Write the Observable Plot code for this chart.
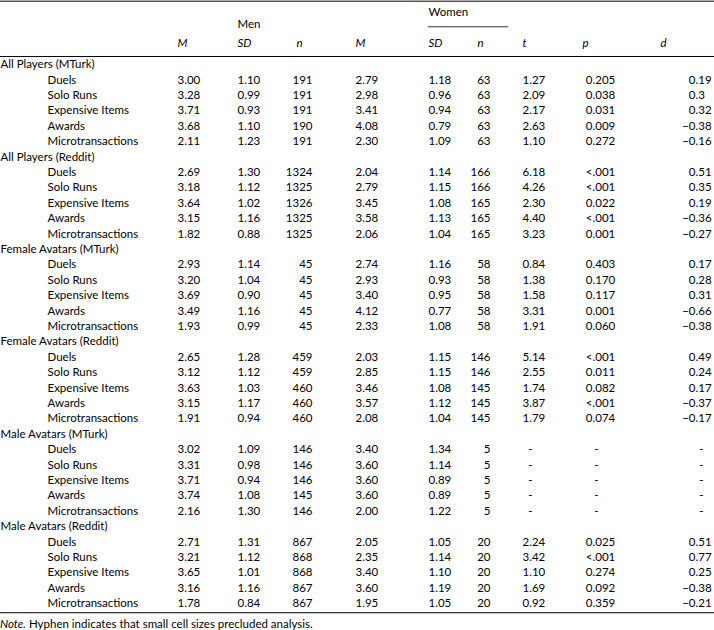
<!DOCTYPE html>
<html><head><meta charset="utf-8">
<script src="https://cdn.jsdelivr.net/npm/d3@7"></script>
<script src="https://cdn.jsdelivr.net/npm/@observablehq/plot@0.6"></script>
<style>
body{margin:0;background:#fff;font-family:Lato,sans-serif;color:#000;}
#note{font-size:11.5px;margin:0;line-height:14px;padding-top:1px;}
</style></head><body>
<div id="chart"></div>
<p id="note"><i>Note.</i> Hyphen indicates that small cell sizes precluded analysis.</p>
<script>
const groups = ["All Players (MTurk)","All Players (Reddit)","Female Avatars (MTurk)","Female Avatars (Reddit)","Male Avatars (MTurk)","Male Avatars (Reddit)"];
const items = ["Duels","Solo Runs","Expensive Items","Awards","Microtransactions"];
const menM = ["3.00","3.28","3.71","3.68","2.11", "2.69","3.18","3.64","3.15","1.82", "2.93","3.20","3.69","3.49","1.93", "2.65","3.12","3.63","3.15","1.91", "3.02","3.31","3.71","3.74","2.16", "2.71","3.21","3.65","3.16","1.78"];
const menSD = ["1.10","0.99","0.93","1.10","1.23", "1.30","1.12","1.02","1.16","0.88", "1.14","1.04","0.90","1.16","0.99", "1.28","1.12","1.03","1.17","0.94", "1.09","0.98","0.94","1.08","1.30", "1.31","1.12","1.01","1.16","0.84"];
const menN = ["191","191","191","190","191", "1324","1325","1326","1325","1325", "45","45","45","45","45", "459","459","460","460","460", "146","146","146","145","146", "867","868","868","867","867"];
const womenM = ["2.79","2.98","3.41","4.08","2.30", "2.04","2.79","3.45","3.58","2.06", "2.74","2.93","3.40","4.12","2.33", "2.03","2.85","3.46","3.57","2.08", "3.40","3.60","3.60","3.60","2.00", "2.05","2.35","3.40","3.60","1.95"];
const womenSD = ["1.18","0.96","0.94","0.79","1.09", "1.14","1.15","1.08","1.13","1.04", "1.16","0.93","0.95","0.77","1.08", "1.15","1.15","1.08","1.12","1.04", "1.34","1.14","0.89","0.89","1.22", "1.05","1.14","1.10","1.19","1.05"];
const womenN = ["63","63","63","63","63", "166","166","165","165","165", "58","58","58","58","58", "146","146","145","145","145", "5","5","5","5","5", "20","20","20","20","20"];
const tVals = ["1.27","2.09","2.17","2.63","1.10", "6.18","4.26","2.30","4.40","3.23", "0.84","1.38","1.58","3.31","1.91", "5.14","2.55","1.74","3.87","1.79", "-","-","-","-","-", "2.24","3.42","1.10","1.69","0.92"];
const pVals = ["0.205","0.038","0.031","0.009","0.272", "<.001","<.001","0.022","<.001","0.001", "0.403","0.170","0.117","0.001","0.060", "<.001","0.011","0.082","<.001","0.074", "-","-","-","-","-", "0.025","<.001","0.274","0.092","0.359"];
const dVals = ["0.19","0.3","0.32","−0.38","−0.16", "0.51","0.35","0.19","−0.36","−0.27", "0.17","0.28","0.31","−0.66","−0.38", "0.49","0.24","0.17","−0.37","−0.17", "-","-","-","-","-", "0.51","0.77","0.25","−0.38","−0.21"];
const headers = ["M","SD","n","M","SD","n","t","p","d"];

// layout (pixel columns, row units for y)
const X = {group:0, item:47, menM:177, menSD:237, menN:312, womenM:355, womenSD:428, womenN:490, t:522, pDec:592, dDec:695,
  hMenM:177, hMenSD:237, hMenN:296, hWomenM:355, hWomenSD:428, hWomenN:477, hT:522, hP:582, hD:660, men:237, women:428, wLine1:428, wLine2:508};
const Y = {topRule:-4.1, women:-3.38, wLine:-2.45, men:-2.6, head:-1.38, headRule:-0.52, bottomRule:35.6};

const rows = [];
const groupRows = [];
groups.forEach((g, gi) => {
  groupRows.push({row: gi*6, label: g});
  items.forEach((it, k) => {
    const i = gi*5 + k;
    rows.push({row: gi*6 + k + 1, item: it, menM: menM[i], menSD: menSD[i], menN: menN[i],
      womenM: womenM[i], womenSD: womenSD[i], womenN: womenN[i], t: tVals[i], p: pVals[i], d: dVals[i]});
  });
});
const splitDec = (s) => { const j = s.indexOf("."); return j < 0 ? [s, ""] : [s.slice(0, j), s.slice(j)]; };
const numRows = rows.filter(r => r.p !== "-");
const dashRows = rows.filter(r => r.p === "-");

const headerData = headers.map((h, i) => ({h, x: [X.hMenM,X.hMenSD,X.hMenN,X.hWomenM,X.hWomenSD,X.hWomenN,X.hT,X.hP,X.hD][i]}));

const fs = 11.5;
const txt = (data, opts) => Plot.text(data, {fontSize: fs, fill: "#000", ...opts});

const chart = Plot.plot({
  width: 714, height: 616, margin: 0,
  style: {fontFamily: "Lato, sans-serif", background: "#fff"},
  x: {type: "identity", axis: null},
  y: {domain: [0, 35], range: [64, 603], axis: null},
  marks: [
    Plot.ruleY([Y.topRule], {stroke: "#555", strokeWidth: 1.5}),
    Plot.ruleY([Y.headRule], {stroke: "#000", strokeWidth: 1}),
    Plot.ruleY([Y.bottomRule], {stroke: "#000", strokeWidth: 1}),
    Plot.ruleY([Y.wLine], {x1: X.wLine1, x2: X.wLine2, stroke: "#333", strokeWidth: 1}),
    txt(["Men"], {x: X.men, y: Y.men, text: d => d, textAnchor: "start"}),
    txt(["Women"], {x: X.women, y: Y.women, text: d => d, textAnchor: "start"}),
    txt(headerData, {x: "x", y: Y.head, text: "h", textAnchor: "start", fontStyle: "italic"}),
    txt(groupRows, {x: X.group, y: "row", text: "label", textAnchor: "start"}),
    txt(rows, {x: X.item, y: "row", text: "item", textAnchor: "start"}),
    txt(rows, {x: X.menM, y: "row", text: "menM", textAnchor: "start"}),
    txt(rows, {x: X.menSD, y: "row", text: "menSD", textAnchor: "start"}),
    txt(rows, {x: X.menN, y: "row", text: "menN", textAnchor: "end"}),
    txt(rows, {x: X.womenM, y: "row", text: "womenM", textAnchor: "start"}),
    txt(rows, {x: X.womenSD, y: "row", text: "womenSD", textAnchor: "start"}),
    txt(rows, {x: X.womenN, y: "row", text: "womenN", textAnchor: "end"}),
    txt(numRows, {x: X.t, y: "row", text: "t", textAnchor: "start"}),
    txt(numRows, {x: X.pDec, y: "row", text: d => splitDec(d.p)[0], textAnchor: "end"}),
    txt(numRows, {x: X.pDec, y: "row", text: d => splitDec(d.p)[1], textAnchor: "start"}),
    txt(numRows, {x: X.dDec, y: "row", text: d => splitDec(d.d)[0], textAnchor: "end"}),
    txt(numRows, {x: X.dDec, y: "row", text: d => splitDec(d.d)[1], textAnchor: "start"}),
    txt(dashRows, {x: X.t + 8, y: "row", text: "t", textAnchor: "middle"}),
    txt(dashRows, {x: X.pDec + 4, y: "row", text: "p", textAnchor: "middle"}),
    txt(dashRows, {x: X.dDec + 6, y: "row", text: "d", textAnchor: "middle"})
  ]
});
document.getElementById("chart").appendChild(chart);
</script>
</body></html>
